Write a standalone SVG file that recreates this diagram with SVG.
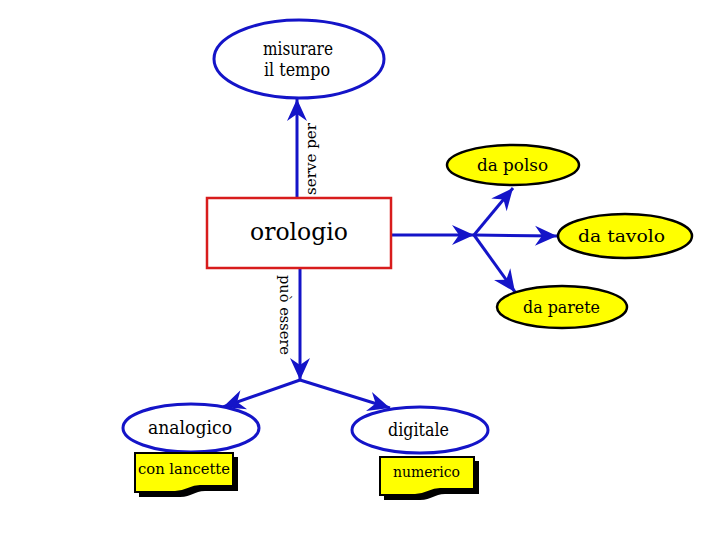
<svg xmlns="http://www.w3.org/2000/svg" width="720" height="540" viewBox="0 0 720 540">
<style>
text{font-family:"DejaVu Serif","Liberation Serif",serif;fill:#000}
.blue{fill:none;stroke:#1414c8;stroke-width:3}
.yel{fill:#ffff00;stroke:#000;stroke-width:2.5}
.wht{fill:#fff;stroke:#1414c8;stroke-width:3}
.doc{fill:#ffff00;stroke:#000;stroke-width:2}
.sh{fill:#000}
</style>
<defs>
<marker id="ah" markerUnits="userSpaceOnUse" viewBox="0 0 24 22" markerWidth="24" markerHeight="22" refX="23" refY="11" orient="auto">
<path d="M23,11 L1,1 L8,11 L1,21 Z" fill="#1414c8"/>
</marker>
</defs>
<rect width="720" height="540" fill="#fff"/>
<g id="connectors">
<line class="blue" x1="297" y1="197" x2="297" y2="99" marker-end="url(#ah)"/>
<text font-size="14" transform="translate(316,195) rotate(-90)" textLength="72" lengthAdjust="spacingAndGlyphs">serve per</text>
<line class="blue" x1="300" y1="268" x2="300" y2="380" marker-end="url(#ah)"/>
<text font-size="14" transform="translate(280,275) rotate(90)" textLength="80" lengthAdjust="spacingAndGlyphs">può essere</text>
<line class="blue" x1="300" y1="380" x2="223" y2="407" marker-end="url(#ah)"/>
<line class="blue" x1="300" y1="380" x2="390" y2="408" marker-end="url(#ah)"/>
<line class="blue" x1="391" y1="235" x2="474" y2="235" marker-end="url(#ah)"/>
<line class="blue" x1="474" y1="235" x2="513" y2="188" marker-end="url(#ah)"/>
<line class="blue" x1="474" y1="235" x2="557" y2="236" marker-end="url(#ah)"/>
<line class="blue" x1="474" y1="235" x2="515" y2="292" marker-end="url(#ah)"/>
</g>
<g id="misurare">
<ellipse class="wht" cx="299" cy="59" rx="85" ry="39"/>
<text font-size="18" x="263" y="55" textLength="70" lengthAdjust="spacingAndGlyphs">misurare</text>
<text font-size="18" x="264" y="76" textLength="66" lengthAdjust="spacingAndGlyphs">il tempo</text>
</g>
<g id="orologio">
<rect x="207" y="198" width="184" height="70" fill="#fff" stroke="#d81c1c" stroke-width="2.5"/>
<text font-size="25" x="250" y="240" textLength="98" lengthAdjust="spacingAndGlyphs">orologio</text>
</g>
<g id="dapolso">
<ellipse class="yel" cx="513" cy="165" rx="66" ry="20"/>
<text font-size="17" x="477" y="171" textLength="71" lengthAdjust="spacingAndGlyphs">da polso</text>
</g>
<g id="datavolo">
<ellipse class="yel" cx="625" cy="236" rx="67" ry="22"/>
<text font-size="16" x="578" y="242" textLength="87" lengthAdjust="spacingAndGlyphs">da tavolo</text>
</g>
<g id="daparete">
<ellipse class="yel" cx="562" cy="307" rx="65" ry="21"/>
<text font-size="17" x="523" y="313" textLength="77" lengthAdjust="spacingAndGlyphs">da parete</text>
</g>
<g id="analogico">
<ellipse class="wht" cx="191" cy="428" rx="68" ry="24"/>
<text font-size="18" x="148" y="434" textLength="84" lengthAdjust="spacingAndGlyphs">analogico</text>
</g>
<g id="digitale">
<ellipse class="wht" cx="420" cy="430" rx="68" ry="23"/>
<text font-size="18" x="388" y="436" textLength="61" lengthAdjust="spacingAndGlyphs">digitale</text>
</g>
<g id="conlancette">
<path class="sh" d="M139,457 H238 V491 L205,491 C194,491 192,497 180,497 L139,497 Z"/>
<path class="doc" d="M135,453 H233 V486 L200,486 C189,486 187,492 175,492 L135,492 Z"/>
<text font-size="15" x="138" y="474" textLength="92" lengthAdjust="spacingAndGlyphs">con lancette</text>
</g>
<g id="numerico">
<path class="sh" d="M384,461 H479 V494 L445,494 C434,494 432,500 420,500 L384,500 Z"/>
<path class="doc" d="M380,457 H474 V489 L440,489 C429,489 427,495 415,495 L380,495 Z"/>
<text font-size="15" x="393" y="477" textLength="67" lengthAdjust="spacingAndGlyphs">numerico</text>
</g>
</svg>
